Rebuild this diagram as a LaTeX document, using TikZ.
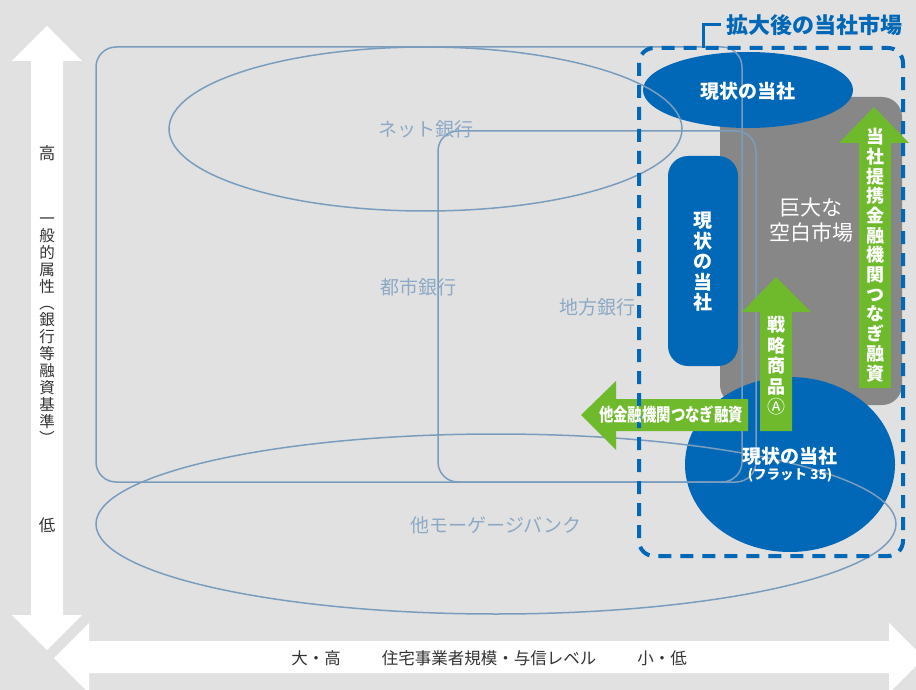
\documentclass[tikz,border=0pt]{standalone}
\usepackage{fontspec}
\setmainfont{Noto Sans CJK JP}
\usetikzlibrary{shapes.geometric}
\definecolor{bg}{HTML}{E1E1E1}
\definecolor{corpblue}{HTML}{0068B7}
\definecolor{leaf}{HTML}{6FB92C}
\definecolor{blank}{HTML}{878787}
\definecolor{outl}{HTML}{7A9DBE}
\definecolor{lbl}{HTML}{8DA9C5}
\definecolor{axtx}{HTML}{333333}
\tikzset{
  outline/.style={draw=outl, line width=1.5pt},
  grouplabel/.style={text=lbl, font=\fontsize{19}{21}\selectfont, inner sep=0pt},
  axislabel/.style={text=axtx, font=\fontsize{16.5}{17}\selectfont, inner sep=0pt, align=center},
  whitebold/.style={text=white, font=\bfseries\fontsize{19}{20.5}\selectfont, inner sep=0pt, align=center},
  greenarrow/.style={fill=leaf},
  dashbox/.style={draw=corpblue, line width=4pt, dash pattern=on 13pt off 9pt, rounded corners=15pt}
}
\begin{document}
\begin{tikzpicture}[x=1pt,y=-1pt]
\useasboundingbox (0,0) rectangle (916,690);
\clip (0,0) rectangle (916,690);
\fill[bg] (0,0) rectangle (916,690);

% axes
\fill[white] (47,26) -- (82,61) -- (63,61) -- (63,615) -- (82,615) -- (47,650) -- (12,615) -- (31,615) -- (31,61) -- (12,61) -- cycle;
\fill[white] (54,658) -- (89,623) -- (89,641) -- (889,641) -- (889,623) -- (924,658) -- (889,693) -- (889,673) -- (89,673) -- (89,693) -- cycle;

% gray blank market
\fill[blank, rounded corners=20pt] (720,97) rectangle (902,405);

% blue shapes
\fill[corpblue] (748,90) ellipse [x radius=105pt, y radius=38pt];
\fill[corpblue, rounded corners=20pt] (668,156) rectangle (738,366);
\fill[corpblue] (790,464.5) ellipse [x radius=105pt, y radius=87.5pt];

% group outlines
\draw[outline, rounded corners=20pt] (96,47) rectangle (742,482);
\draw[outline, rounded corners=20pt] (438,131) rectangle (756,482);
\draw[outline] (425.5,129) ellipse [x radius=256.5pt, y radius=82pt];
\draw[outline] (496,524) ellipse [x radius=400pt, y radius=90pt];

% green arrows
\fill[greenarrow] (776,277) -- (811,312) -- (792,312) -- (792,431) -- (760,431) -- (760,312) -- (742,312) -- cycle;
\fill[greenarrow] (874,107) -- (909,143) -- (891,143) -- (891,388) -- (859,388) -- (859,143) -- (839,143) -- cycle;
\fill[greenarrow] (581,415) -- (616,381) -- (616,399) -- (748,399) -- (748,431) -- (616,431) -- (616,450) -- cycle;

% expanded market
\draw[dashbox] (639,48) rectangle (903,556);
\coordinate (brk) at (703,48);
\draw[corpblue, line width=3pt] (brk) -- (703,25) -- (721,25);
\node[anchor=west, text=corpblue, font=\bfseries\fontsize{22}{24}\selectfont, inner sep=0pt] (mkt) at (726,25) {拡大後の当社市場};

% group labels
\node[grouplabel] (net) at (426,129) {ネット銀行};
\node[grouplabel] (city) at (418,287) {都市銀行};
\node[grouplabel] (local) at (597,307) {地方銀行};
\node[grouplabel] (mort) at (496,525) {他モーゲージバンク};

% company labels
\node[whitebold] (cur1) at (748,91) {現状の当社};
\node[whitebold, font=\bfseries\fontsize{19}{20.5}\selectfont] (cur2) at (703,262) {現\\状\\の\\当\\社};
\node[whitebold] (cur3) at (790,456) {現状の当社};
\node[text=white, font=\bfseries\fontsize{13.5}{14}\selectfont, inner sep=0pt] (flat) at (790,475) {(フラット 35)};
\node[text=white, font=\fontsize{21}{25}\selectfont, inner sep=0pt, align=center] (blanktxt) at (811,220) {巨大な\\空白市場};

% arrow labels
\node[whitebold, font=\bfseries\fontsize{18}{20.5}\selectfont] (strat) at (776,366) {戦\\略\\商\\品\\{\mdseries Ⓐ}};
\node[whitebold, font=\bfseries\fontsize{18}{19.7}\selectfont] (partner) at (875,255) {当\\社\\提\\携\\金\\融\\機\\関\\つ\\な\\ぎ\\融\\資};
\node[whitebold, font=\bfseries\fontsize{18}{20}\selectfont] (other) at (671,415) {\scalebox{0.8}[1]{他金融機関つなぎ融資}};

% axis labels
\node[axislabel] (hi) at (47,153) {高};
\node[axislabel, font=\fontsize{15.5}{16.9}\selectfont] (crit) at (47,332) {一\\般\\的\\属\\性\\\rotatebox[origin=c]{-90}{（}\\銀\\行\\等\\融\\資\\基\\準\\\rotatebox[origin=c]{-90}{）}};
\node[axislabel] (lo) at (47,525) {低};
\node[axislabel] (big) at (316,658) {大・高};
\node[axislabel] (scale) at (489,658) {住宅事業者規模・与信レベル};
\node[axislabel] (small) at (662,658) {小・低};
\end{tikzpicture}
\end{document}
